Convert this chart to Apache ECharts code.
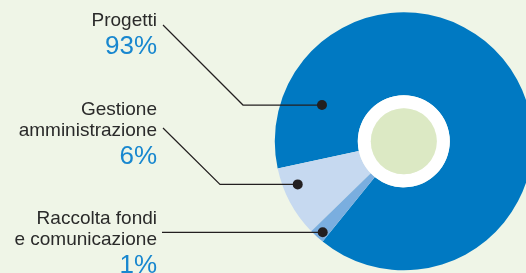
<!DOCTYPE html>
<html>
<head>
<meta charset="utf-8">
<script src="https://cdn.jsdelivr.net/npm/echarts@6/dist/echarts.min.js"></script>
<style>
  html, body { margin: 0; padding: 0; background: #eff5e7; }
  #chart { width: 526px; height: 273px; }
</style>
</head>
<body>
<div id="chart"></div>
<script>
// data
const categories = ['Progetti', 'Gestione\namministrazione', 'Raccolta fondi\ne comunicazione']
const percentLabels = ['93%', '6%', '1%']
// slice sizes as drawn in the graphic (the small ones are drawn wider than their share)
const sliceValues = [89.2, 8.9, 1.9]

// layout
const cx = 403.8, cy = 141.3, outerR = 129
const sliceColors = ['#0079c2', '#c6d9f0', '#7aaedf']
// callout dots on the pie: [radius px, angle deg]
const anchors = [[89.5, 156.1], [114.5, 202.1], [121.9, 228.3]]
const labelTops = [10, 99, 208]
const labelRight = 157
const elbowX = [243, 220, 240]
const lineEnds = [[163, 25], [163, 128], [162, 232.3]]

const anchorPx = (i) => {
  const [r, a] = anchors[i]
  const rad = a * Math.PI / 180
  return [cx + r * Math.cos(rad), cy - r * Math.sin(rad)]
}

const pieBase = {
  type: 'pie',
  center: [cx, cy],
  radius: [46, outerR],
  startAngle: 231,
  clockwise: false,
  avoidLabelOverlap: false,
  emphasis: { disabled: true },
  silent: true
}

const chart = echarts.init(document.getElementById('chart'), null, { renderer: 'canvas' })

chart.setOption({
  backgroundColor: '#eff5e7',
  animation: false,
  polar: { center: [cx, cy], radius: outerR },
  radiusAxis: { type: 'value', min: 0, max: outerR, show: false },
  angleAxis: { type: 'value', min: 0, max: 360, startAngle: 0, clockwise: false, show: false },
  series: [
    {
      ...pieBase,
      z: 2,
      label: { show: false },
      labelLine: { show: false },
      data: categories.map((name, i) => ({
        name,
        value: sliceValues[i],
        itemStyle: { color: sliceColors[i] }
      }))
    },
    // same slices, invisible, only to carry the callouts above the colored pie
    {
      ...pieBase,
      z: 4,
      data: categories.map((name, i) => ({
        name,
        value: sliceValues[i],
        itemStyle: { color: 'rgba(0,0,0,0)' }
      })),
      label: {
        show: true,
        position: 'outside',
        formatter: (p) =>
          categories[p.dataIndex].split('\n').map((s) => `{name|${s}}`).join('\n') +
          `\n{pct|${percentLabels[p.dataIndex]}}`,
        rich: {
          name: { fontFamily: 'Liberation Sans', fontSize: 19, lineHeight: 21, color: '#2a2a2a', align: 'right' },
          pct: { fontFamily: 'Liberation Sans', fontSize: 26, lineHeight: 32, color: '#1887cf', align: 'right' }
        }
      },
      labelLine: { show: true, showAbove: true, lineStyle: { color: '#231f20', width: 1.2 } },
      labelLayout: (p) => {
        const i = p.dataIndex
        const a = anchorPx(i)
        return {
          x: labelRight,
          y: labelTops[i],
          align: 'right',
          verticalAlign: 'top',
          labelLinePoints: [a, [elbowX[i], a[1]], lineEnds[i]]
        }
      }
    },
    // white ring and green disc in the middle
    {
      type: 'pie',
      center: [cx, cy],
      radius: [33, 46],
      silent: true,
      label: { show: false },
      data: [{ value: 1, itemStyle: { color: '#ffffff' } }]
    },
    {
      type: 'pie',
      center: [cx, cy],
      radius: [0, 33],
      silent: true,
      label: { show: false },
      data: [{ value: 1, itemStyle: { color: '#dce9c4' } }]
    },
    {
      type: 'scatter',
      coordinateSystem: 'polar',
      symbolSize: 10,
      z: 6,
      silent: true,
      itemStyle: { color: '#231f20', opacity: 1 },
      data: anchors
    }
  ]
})
</script>
</body>
</html>
